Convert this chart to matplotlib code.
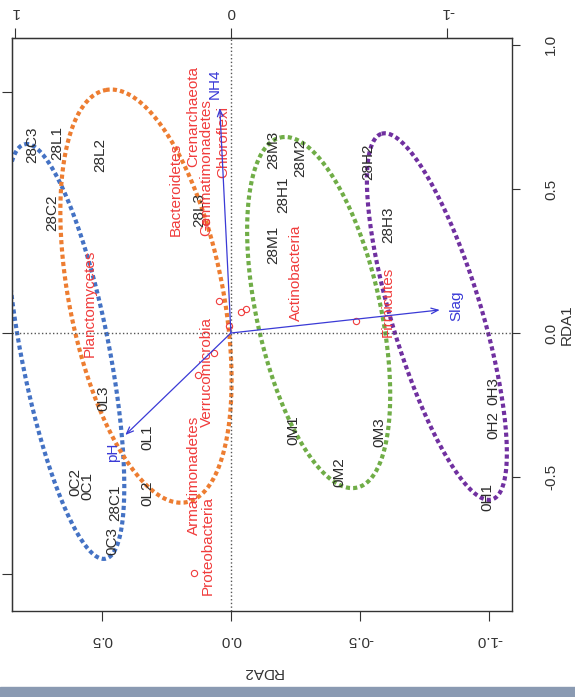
import matplotlib
matplotlib.use('Agg')
import matplotlib.pyplot as plt
from matplotlib.patches import Rectangle
import numpy as np

plt.rcParams['font.family'] = ['Liberation Sans', 'DejaVu Sans']

## site scores (RDA2, RDA1)
site_names = ['28C3', '28L1', '28L2', '28C2', '28L3', '28M3', '28M2', '28H1', '28M1',
              '28H2', '28H3', '0H3', '0H2', '0H1', '0M3', '0M2', '0M1', '0L3', '0L1',
              '0L2', '0C2', '0C1', '28C1', '0C3']
site_rda2 = [0.770, 0.673, 0.506, 0.693, 0.121, -0.163, -0.268, -0.202, -0.163,
             -0.533, -0.611, -1.016, -1.016, -0.992, -0.576, -0.420, -0.241, 0.494, 0.323,
             0.323, 0.603, 0.556, 0.447, 0.459]
site_rda1 = [0.653, 0.660, 0.618, 0.417, 0.427, 0.635, 0.608, 0.479, 0.306,
             0.594, 0.375, -0.201, -0.319, -0.569, -0.344, -0.483, -0.337, -0.226, -0.361,
             -0.556, -0.517, -0.531, -0.590, -0.722]

## species (phyla) labels and points
spec_names = ['Bacteroidetes', 'Crenarchaeota', 'Gemmatimonadetes', 'Chloroflexi',
              'Actinobacteria', 'Firmicutes', 'Planctomycetes', 'Verrucomicrobia',
              'Armatimonadetes', 'Proteobacteria']
spec_rda2 = [0.214, 0.144, 0.097, 0.031, -0.253, -0.607, 0.545, 0.093, 0.144, 0.089]
spec_rda1 = [0.497, 0.750, 0.573, 0.663, 0.208, 0.108, 0.104, -0.135, -0.493, -0.736]

pt_rda2 = [0.144, 0.128, 0.066, 0.047, 0.008, -0.039, -0.058, -0.486, 0.097]
pt_rda1 = [-0.833, -0.146, -0.069, 0.111, 0.024, 0.073, 0.083, 0.042, 0.385]

## environmental vectors
env_names = ['NH4', 'pH', 'Slag']
env_rda2 = [0.043, 0.409, -0.809]
env_rda1 = [0.781, -0.354, 0.080]
envlab_rda2 = [0.062, 0.455, -0.875]
envlab_rda1 = [0.865, -0.413, 0.094]

## group ellipses: centre, semi axes (RDA1 units), tilt (deg)
grp_cx = [0.642, 0.329, -0.340, -0.798]
grp_cy = [-0.064, 0.128, 0.071, 0.057]
grp_a = [0.733, 0.729, 0.622, 0.663]
grp_b = [0.153, 0.267, 0.215, 0.156]
grp_tilt = [11.0, 11.1, 12.3, 16.8]
grp_col = ['#4472C4', '#ED7D31', '#70AD47', '#7030A0']

xlim = (0.848, -1.089)
ylim = (-0.965, 1.024)
fs = 11

fig = plt.figure(figsize=(5.75, 6.97), dpi=100)
ax = fig.add_axes([12/575, 1-611/697, 500/575, 573/697])
ax.set_xlim(xlim)
ax.set_ylim(ylim)

##ellipses: built in equal screen units, then back to data units
r = (500/abs(xlim[1]-xlim[0])) / (573/(ylim[1]-ylim[0]))
tt = np.linspace(0, 2*np.pi, 361)
for cx, cy, a, b, t, c in zip(grp_cx, grp_cy, grp_a, grp_b, grp_tilt, grp_col):
    ph = np.radians(t)
    u = -cx*r + a*np.cos(tt)*(-np.sin(ph)) + b*np.sin(tt)*np.cos(ph)
    v = cy + a*np.cos(tt)*np.cos(ph) + b*np.sin(tt)*np.sin(ph)
    ax.plot(-u/r, v, color=c, lw=3, linestyle=(0, (1, 0.75)), dash_capstyle='butt')

ax.axvline(0, color='#555555', ls=':', lw=1)
ax.axhline(0, color='#555555', ls=':', lw=1)

for n, x, y in zip(site_names, site_rda2, site_rda1):
    ax.text(x, y, n, rotation=90, ha='center', va='center', color='#2b2b2b', fontsize=fs)

ax.plot(pt_rda2, pt_rda1, 'o', mfc='none', mec='#f03c3c', ms=4.5, mew=0.8)
for n, x, y in zip(spec_names, spec_rda2, spec_rda1):
    ax.text(x, y, n, rotation=90, ha='center', va='center', color='#f03c3c', fontsize=fs)

for x, y in zip(env_rda2, env_rda1):
    ax.annotate('', xy=(x, y), xytext=(0, 0),
                arrowprops=dict(arrowstyle='->,head_length=0.5,head_width=0.2',
                                color='#3a3ad6', lw=0.9, shrinkA=0, shrinkB=0))
for n, x, y in zip(env_names, envlab_rda2, envlab_rda1):
    ax.text(x, y, n, rotation=90, ha='center', va='center', color='#3a3ad6', fontsize=fs)

## axes, rotated like the source picture
ax.set_xticks([0.5, 0.0, -0.5, -1.0])
ax.set_xticklabels(['0.5', '0.0', '-0.5', '-1.0'])
ax.tick_params(axis='x', length=7, pad=9, labelsize=fs, labelrotation=180, colors='#333333')
ax.yaxis.tick_right()
ax.set_yticks([1.0, 0.5, 0.0, -0.5])
ax.set_yticklabels(['1.0', '0.5', '0.0', '-0.5'])
ax.tick_params(axis='y', length=6, pad=17, labelsize=fs, labelrotation=90, colors='#333333')
for lab in ax.get_yticklabels():
    lab.set_va('center')
ax.yaxis.set_label_position('right')
ax.set_ylabel('RDA1', rotation=90, fontsize=fs, labelpad=1, color='#333333')
ax.set_xlabel('RDA2', rotation=180, fontsize=fs, labelpad=13, color='#333333')

k = 1/0.838
sec = ax.secondary_xaxis('top', functions=(lambda x: x*k, lambda x: x/k))
sec.set_xticks([1, 0, -1])
sec.set_xticklabels(['1', '0', '-1'])
sec.tick_params(length=7, pad=7, labelsize=fs, labelrotation=180, colors='#333333')
secy = ax.secondary_yaxis('left', functions=(lambda x: x*k, lambda x: x/k))
secy.set_yticks([1, 0, -1])
secy.set_yticklabels(['', '', ''])
secy.tick_params(length=7, colors='#333333')

for s in ax.spines.values():
    s.set_color('#333333')
    s.set_linewidth(1)

fig.patches.append(Rectangle((0, 0), 1, 10/697, transform=fig.transFigure,
                             color='#8a9ab2', zorder=0))

fig.savefig('out.png', dpi=100)
